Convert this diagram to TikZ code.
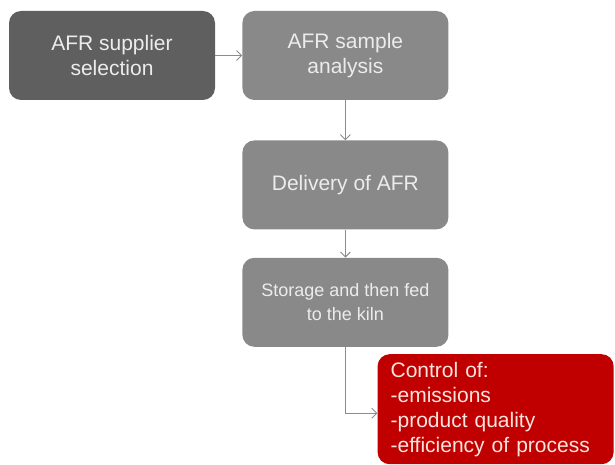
\documentclass[tikz,border=0pt]{standalone}
\usepackage{fontspec}
\setmainfont{Liberation Sans}
\usetikzlibrary{positioning,arrows.meta}
\definecolor{darkbox}{RGB}{95,95,95}
\definecolor{lightbox}{RGB}{137,137,137}
\definecolor{ctrlred}{RGB}{192,0,0}
\definecolor{linegray}{RGB}{140,140,140}
\definecolor{boxtext}{RGB}{236,236,236}
\tikzstyle{arrow} = [draw=linegray, line width=0.9pt, -{Straight Barb[length=5pt,width=10pt]}]

\begin{document}
\begin{tikzpicture}[node distance=27pt]
	\tikzstyle{box} = [rectangle, rounded corners=12pt, fill=lightbox, text=boxtext, align=center, minimum height=89pt, minimum width=206pt, font=\fontsize{21}{25}\selectfont];
	\useasboundingbox (0,0) rectangle (615pt,-465pt);
	\node (supplier) [box, fill=darkbox] at (112pt,-55.5pt) {AFR supplier\\selection};
	\node (sample) [box, right=27pt of supplier] {AFR sample\\analysis};
	\node (delivery) [box, below=40pt of sample] {Delivery of AFR};
	\node (storage) [box, below=28pt of delivery, font=\fontsize{18}{24}\selectfont] {Storage and then fed\\to the kiln};
	\node (control) [box, fill=ctrlred, text={rgb,255:red,250;green,228;blue,222}, align=left, text width=210pt, inner xsep=13pt, minimum height=110pt, below right=7pt and 32pt of storage.south] {Control of:\\-emissions\\-product quality\\-efficiency of process};
	\draw [arrow] (supplier) -- (sample);
	\draw [arrow] (sample) -- (delivery);
	\draw [arrow] (delivery) -- (storage);
	\draw [arrow] (storage.south) |- ([yshift=-4pt]control.west);
\end{tikzpicture}
\end{document}
